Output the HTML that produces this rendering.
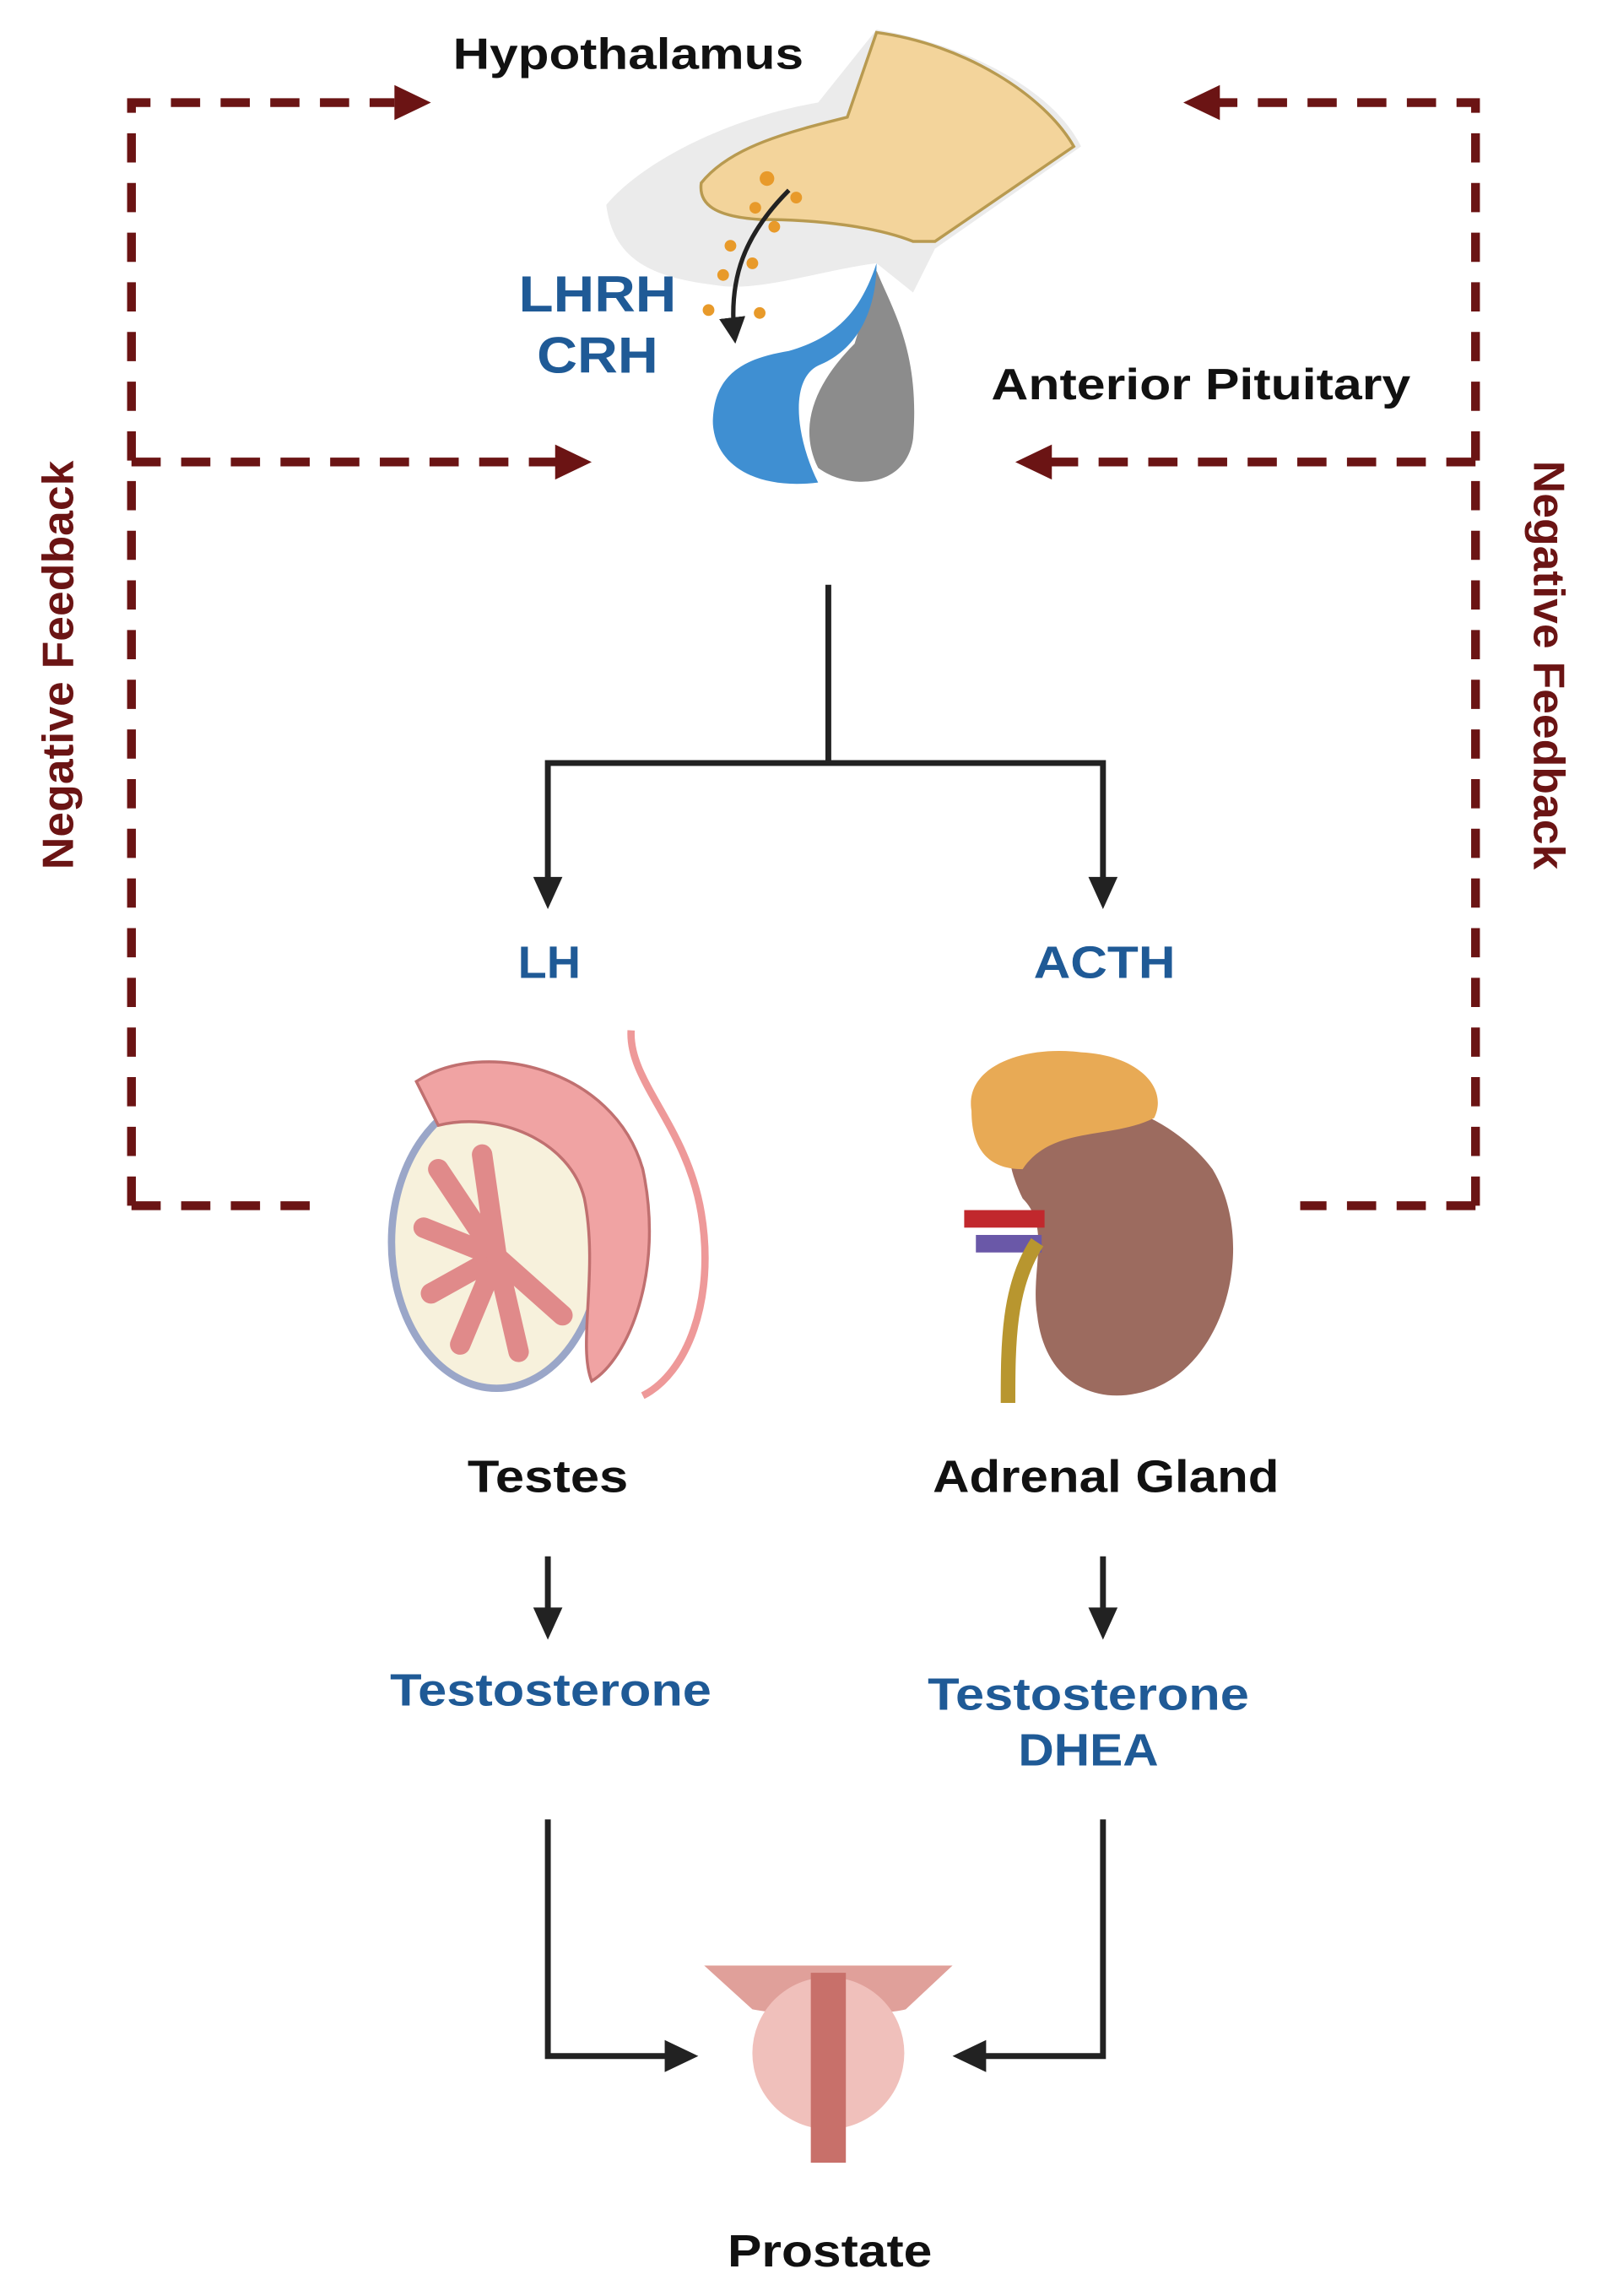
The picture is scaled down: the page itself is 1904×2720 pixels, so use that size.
<!DOCTYPE html>
<html><head><meta charset="utf-8"><style>
html,body{margin:0;padding:0;background:#fff;}
svg{display:block;}
text{font-family:"Liberation Sans",sans-serif;font-weight:bold;}
</style></head><body>
<svg width="1904" height="2720" viewBox="0 0 1100 1571" xmlns="http://www.w3.org/2000/svg">
<defs>
<marker id="ab" markerWidth="6" markerHeight="6" refX="5" refY="3" orient="auto" markerUnits="strokeWidth"><path d="M0,0 L6,3 L0,6 z" fill="#222"/></marker>
</defs>
<g stroke="#6b1414" stroke-width="6" fill="none" stroke-dasharray="20,14">
<path d="M90,825 V70 H270"/>
<path d="M90,316 H385"/>
<path d="M90,825 H215"/>
<path d="M1010,825 V70 H830"/>
<path d="M1010,316 H715"/>
<path d="M1010,825 H890"/>
</g>
<g fill="#6b1414">
<path d="M270,58 L295,70 L270,82z"/>
<path d="M380,304 L405,316 L380,328z"/>
<path d="M835,58 L810,70 L835,82z"/>
<path d="M720,304 L695,316 L720,328z"/>
</g>
<text x="40" y="465" fill="#6b1414" font-size="30" text-anchor="middle" textLength="280" lengthAdjust="spacingAndGlyphs" transform="rotate(-90 40 455)">Negative Feedback</text>
<text x="1060" y="465" fill="#6b1414" font-size="30" text-anchor="middle" textLength="280" lengthAdjust="spacingAndGlyphs" transform="rotate(90 1060 455)">Negative Feedback</text>

<path d="M415,140 C440,110 500,80 560,70 L600,20 C660,30 720,60 740,100 L640,170 L625,200 L600,180 C560,185 520,200 490,195 C450,190 420,180 415,140z" fill="#ebebeb"/>
<path d="M480,125 C500,100 540,90 580,80 L600,22 C660,30 715,65 735,100 L640,165 L625,165 C600,155 560,150 520,150 C490,148 478,140 480,125z" fill="#f3d49b" stroke="#b89a50" stroke-width="2"/>
<path d="M600,185 C610,210 630,240 625,300 C620,335 580,335 560,320 C545,290 560,260 585,235z" fill="#8c8c8c"/>
<path d="M600,180 C600,215 585,240 560,250 C540,260 545,300 560,330 C520,335 490,320 488,290 C488,255 510,245 540,240 C575,230 590,210 600,180z" fill="#3f8fd2"/>
<g fill="#e89a2a"><circle cx="525" cy="122" r="5"/><circle cx="545" cy="135" r="4"/><circle cx="517" cy="142" r="4"/><circle cx="530" cy="155" r="4"/><circle cx="500" cy="168" r="4"/><circle cx="515" cy="180" r="4"/><circle cx="495" cy="188" r="4"/><circle cx="485" cy="212" r="4"/><circle cx="520" cy="214" r="4"/></g>
<path d="M540,130 C510,160 498,190 503,232" stroke="#222" stroke-width="3" fill="none" marker-end="url(#ab)"/>
<text x="430" y="47" font-size="30" fill="#111" text-anchor="middle" textLength="240" lengthAdjust="spacingAndGlyphs">Hypothalamus</text>
<text x="409" y="213" font-size="35" fill="#1f5a96" text-anchor="middle" textLength="108" lengthAdjust="spacingAndGlyphs">LHRH</text>
<text x="409" y="255" font-size="35" fill="#1f5a96" text-anchor="middle" textLength="83" lengthAdjust="spacingAndGlyphs">CRH</text>
<text x="822" y="273" font-size="30" fill="#111" text-anchor="middle" textLength="287" lengthAdjust="spacingAndGlyphs">Anterior Pituitary</text>

<g stroke="#222" stroke-width="4" fill="none">
<path d="M567,400 V522"/>
<path d="M375,522 H755"/>
<path d="M375,520 V605"/><path d="M755,520 V605"/>
<path d="M375,1065 V1105"/><path d="M755,1065 V1105"/>
<path d="M375,1245 V1407 H460"/><path d="M755,1245 V1407 H670"/>
</g>
<g fill="#222">
<path d="M365,600 L385,600 L375,622z"/><path d="M745,600 L765,600 L755,622z"/>
<path d="M365,1100 L385,1100 L375,1122z"/><path d="M745,1100 L765,1100 L755,1122z"/>
<path d="M455,1396 L478,1407 L455,1418z"/><path d="M675,1396 L652,1407 L675,1418z"/>
</g>
<text x="376" y="669" font-size="31" fill="#1f5a96" text-anchor="middle" textLength="43" lengthAdjust="spacingAndGlyphs">LH</text>
<text x="756" y="669" font-size="31" fill="#1f5a96" text-anchor="middle" textLength="97" lengthAdjust="spacingAndGlyphs">ACTH</text>

<ellipse cx="340" cy="850" rx="72" ry="100" fill="#f7f1dc" stroke="#9aa6c8" stroke-width="5"/>
<g stroke="#e08a8a" stroke-width="14" stroke-linecap="round">
<path d="M340,860 L300,800"/><path d="M340,860 L290,840"/><path d="M340,860 L295,885"/><path d="M340,860 L315,920"/><path d="M340,860 L355,925"/><path d="M340,860 L330,790"/><path d="M340,860 L385,900"/>
</g>
<path d="M285,740 C330,710 420,730 440,800 C455,870 430,930 405,945 C395,920 410,870 400,820 C390,780 340,760 300,770z" fill="#f0a3a3" stroke="#c07070" stroke-width="2"/>
<path d="M432,705 C430,740 470,770 480,830 C490,890 470,940 440,955" stroke="#e99" stroke-width="5" fill="none"/>

<path d="M700,760 C740,740 800,760 830,800 C860,850 840,930 790,950 C750,965 715,945 710,900 C705,870 720,840 700,820 C690,800 685,775 700,760z" fill="#9c6b5f"/>
<path d="M665,760 C660,730 700,715 740,720 C780,722 800,745 790,765 C760,780 720,770 700,800 C680,800 665,790 665,760z" fill="#e8aa55"/>
<rect x="660" y="828" width="55" height="12" fill="#c1282d"/>
<rect x="668" y="845" width="45" height="12" fill="#6a58a8"/>
<path d="M710,850 C690,880 690,920 690,960" stroke="#b8962f" stroke-width="10" fill="none"/>

<text x="375" y="1021" font-size="31" fill="#111" text-anchor="middle" textLength="110" lengthAdjust="spacingAndGlyphs">Testes</text>
<text x="757" y="1021" font-size="31" fill="#111" text-anchor="middle" textLength="237" lengthAdjust="spacingAndGlyphs">Adrenal Gland</text>
<text x="377" y="1167" font-size="31" fill="#1f5a96" text-anchor="middle" textLength="220" lengthAdjust="spacingAndGlyphs">Testosterone</text>
<text x="745" y="1170" font-size="31" fill="#1f5a96" text-anchor="middle" textLength="220" lengthAdjust="spacingAndGlyphs">Testosterone</text>
<text x="745" y="1208" font-size="31" fill="#1f5a96" text-anchor="middle" textLength="96" lengthAdjust="spacingAndGlyphs">DHEA</text>

<path d="M482,1345 L652,1345 L620,1375 C600,1380 540,1380 515,1375z" fill="#e0a09a"/>
<ellipse cx="567" cy="1405" rx="52" ry="52" fill="#f0c0bb"/>
<rect x="555" y="1350" width="24" height="130" fill="#c8706a"/>
<text x="568" y="1551" font-size="31" fill="#111" text-anchor="middle" textLength="140" lengthAdjust="spacingAndGlyphs">Prostate</text>
</svg>
</body></html>
